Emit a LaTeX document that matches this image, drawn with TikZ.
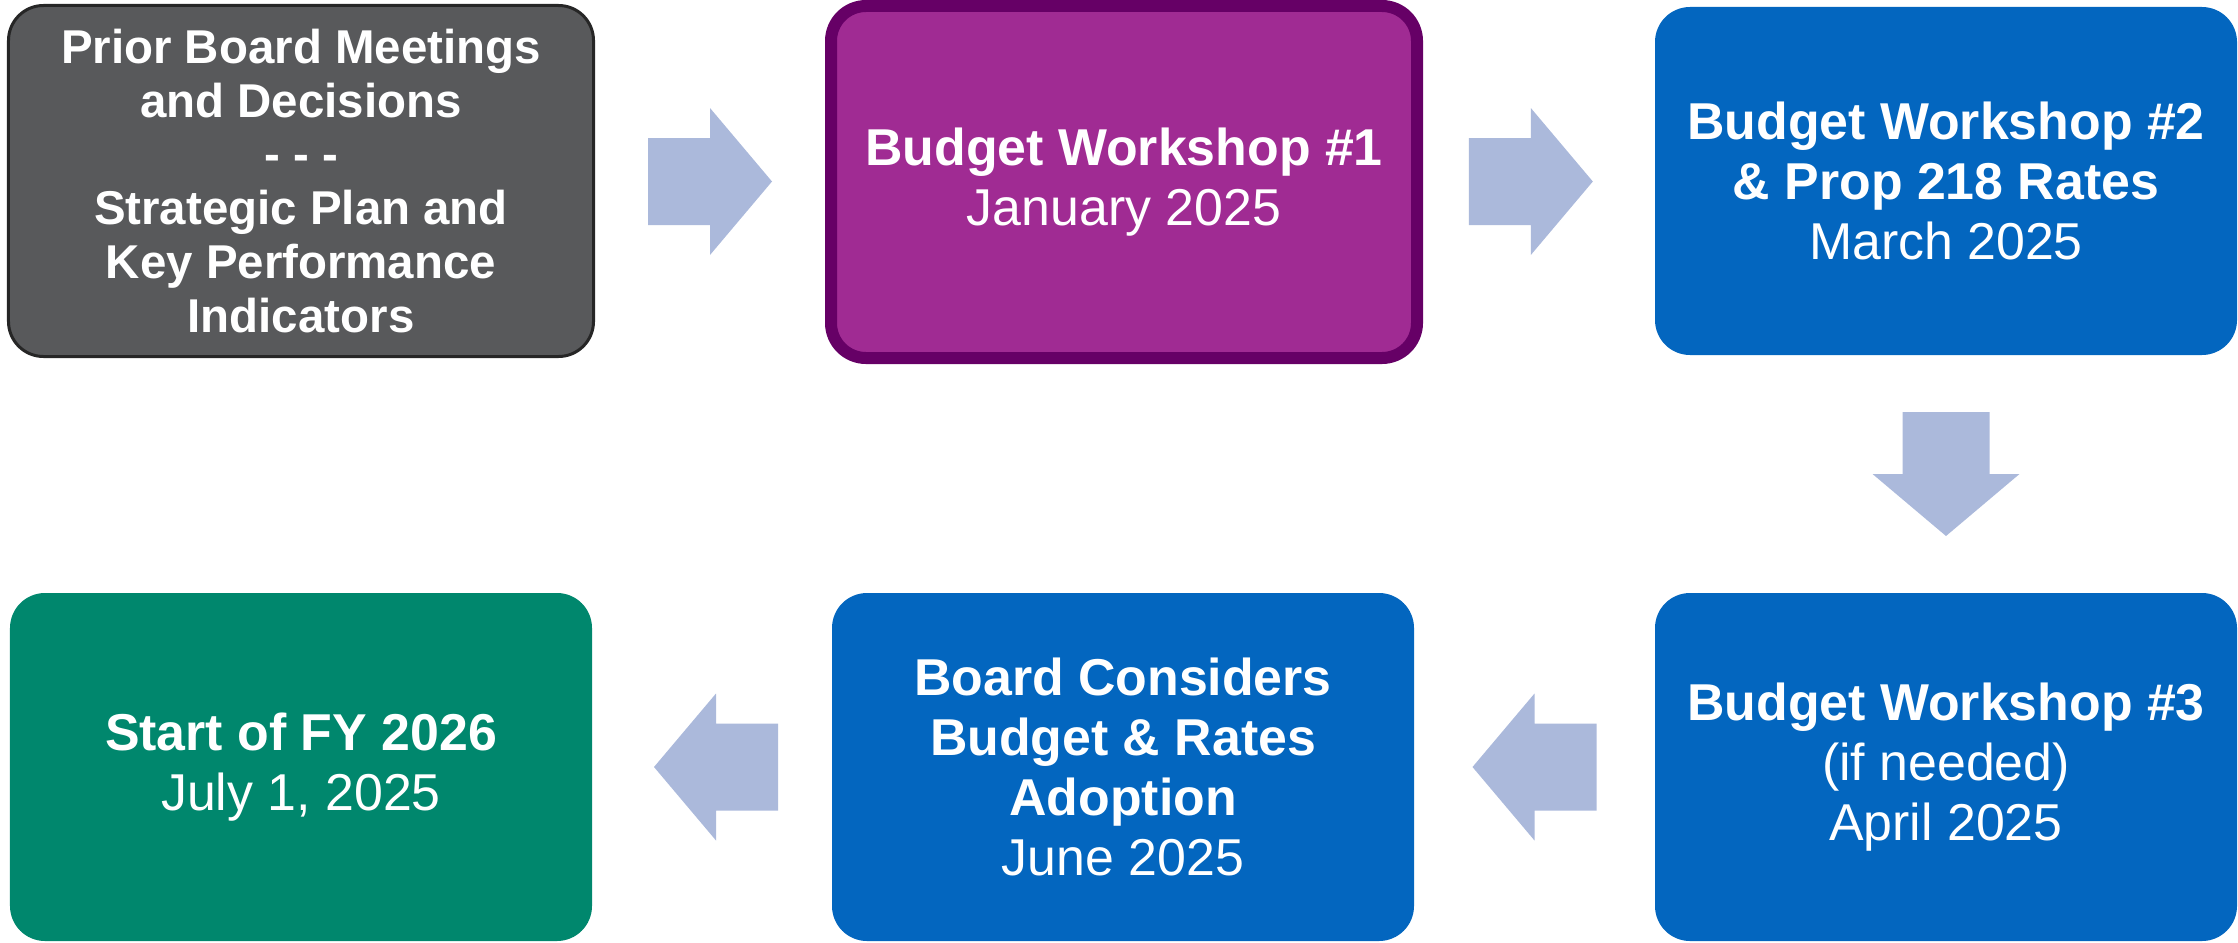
\documentclass[tikz,border=0pt]{standalone}
\usepackage{fontspec}
\setmainfont{Liberation Sans}
\usetikzlibrary{calc,positioning}
\definecolor{slategray}{HTML}{58595B}
\definecolor{darkline}{HTML}{262626}
\definecolor{plum}{HTML}{A02B93}
\definecolor{darkplum}{HTML}{660066}
\definecolor{deepblue}{HTML}{0366BF}
\definecolor{teal}{HTML}{00876D}
\definecolor{arrowblue}{HTML}{ABB9DB}

\tikzset{
  stage/.style={rounded corners=7mm, align=center, text=white, inner sep=0pt,
    minimum width=116.4mm, minimum height=69.6mm,
    font=\fontsize{29.5}{34}\selectfont},
  blockarrow/.pic={
    \fill[arrowblue] (-62,-43.5) -- (0,-43.5) -- (0,-73.5) -- (62,0)
      -- (0,73.5) -- (0,43.5) -- (-62,43.5) -- cycle;
  }
}

\begin{document}
\begin{tikzpicture}[x=0.2mm, y=-0.2mm]
  \useasboundingbox (0,0) rectangle (2238,942);

  % Top row
  \node[stage, fill=slategray, draw=darkline, line width=0.6mm,
        minimum width=117mm, minimum height=70.2mm,
        font=\bfseries\fontsize{27}{30.7}\selectfont] (prior) at (301,181)
    {Prior Board Meetings\\and Decisions\\- - -\\Strategic Plan and\\Key Performance\\Indicators};
  \node[stage, fill=plum, draw=darkplum, line width=2.4mm,
        minimum width=117.2mm, minimum height=70.4mm] (ws1) at (1124,182)
    {\textbf{Budget Workshop \#1}\\January 2025};
  \node[stage, fill=deepblue] (ws2) at (1946,181)
    {\textbf{Budget Workshop \#2}\\\textbf{\& Prop 218 Rates}\\March 2025};

  % Bottom row
  \node[stage, fill=deepblue] (ws3) at (1946,767)
    {\textbf{Budget Workshop \#3}\\(if needed)\\April 2025};
  \node[stage, fill=deepblue] (adopt) at (1123,767)
    {\textbf{Board Considers}\\\textbf{Budget \& Rates}\\\textbf{Adoption}\\June 2025};
  \node[stage, fill=teal] (fy) at (301,767)
    {\textbf{Start of FY 2026}\\July 1, 2025};

  % Arrows between stages
  \path ($(prior.east)!0.5!(ws1.west)$) pic {blockarrow};
  \path ($(ws1.east)!0.5!(ws2.west)$) pic[xshift=-1.6mm] {blockarrow};
  \path ($(ws2.south)!0.5!(ws3.north)$) pic[rotate=-90] {blockarrow};
  \path ($(ws3.west)!0.5!(adopt.east)$) pic[rotate=180] {blockarrow};
  \path ($(adopt.west)!0.5!(fy.east)$) pic[rotate=180, xshift=-0.8mm] {blockarrow};
\end{tikzpicture}
\end{document}
